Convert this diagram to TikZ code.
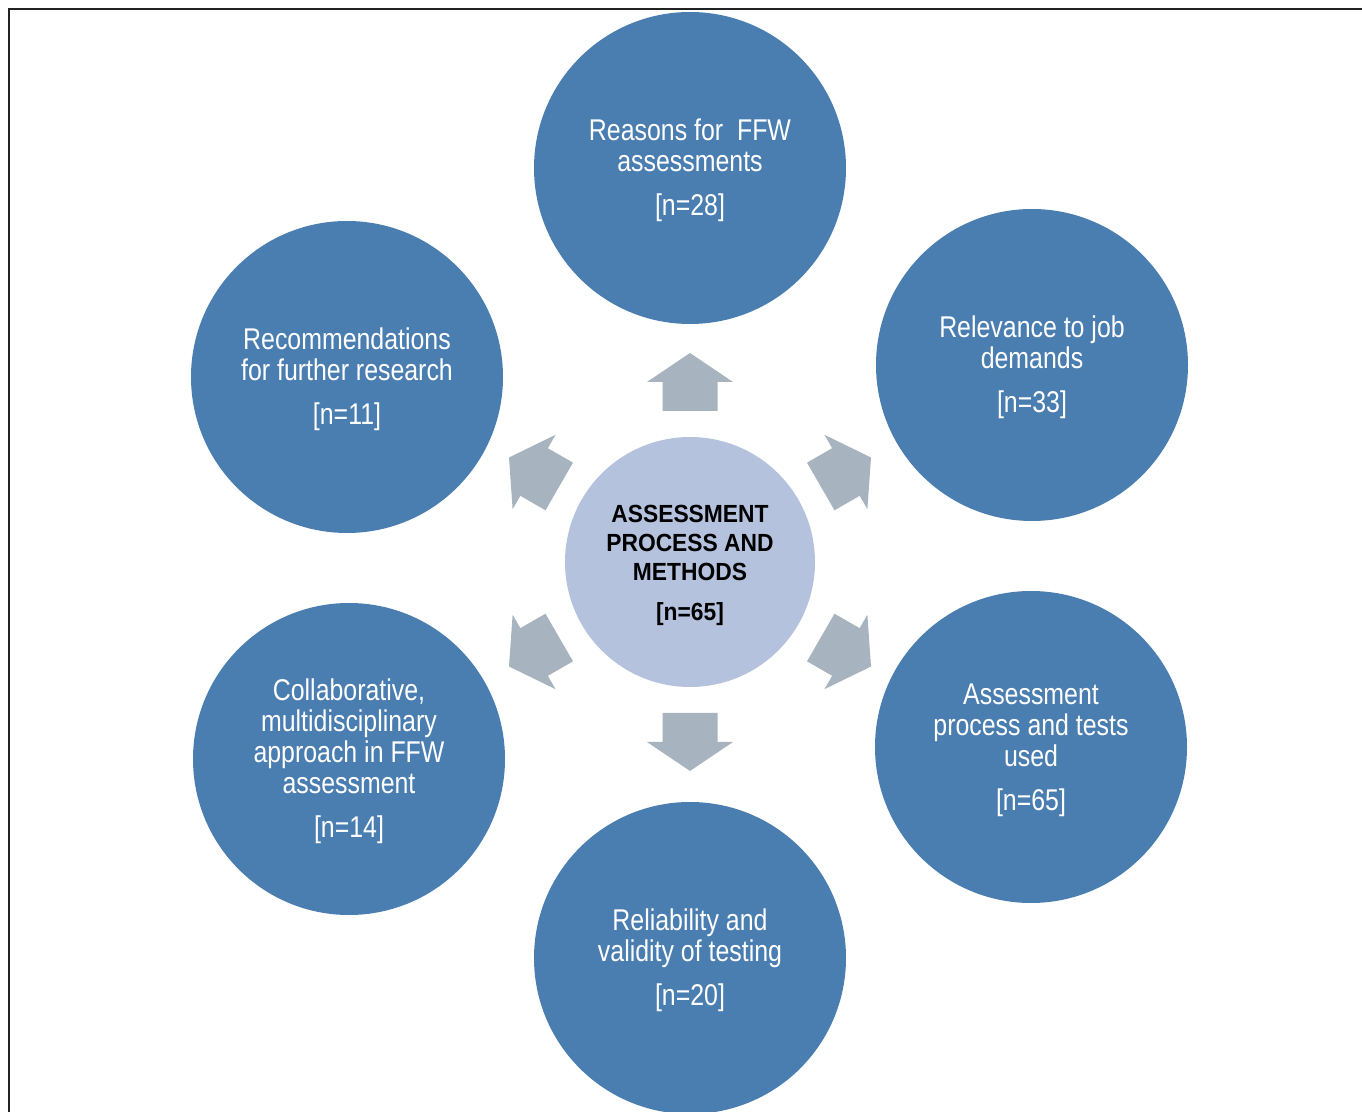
\documentclass[tikz,border=0pt]{standalone}
\usepackage{fontspec}
\setmainfont{Liberation Sans}[FakeStretch=0.83]
\newfontfamily\hubfont{Liberation Sans}[FakeStretch=0.92]
\definecolor{blueA}{RGB}{74,126,177}
\definecolor{hubC}{RGB}{180,194,222}
\definecolor{arrowC}{RGB}{168,179,192}
\definecolor{frameC}{RGB}{34,34,34}
\newcommand\mytopstrut[1]{\rule{0pt}{#1}}
\begin{document}
\begin{tikzpicture}[x=0.5pt,y=-0.5pt,
  outer/.style={circle, fill=blueA, draw=none, minimum size=156pt, inner sep=0pt,
    align=center, text=white, font=\fontsize{15}{15.5}\selectfont},
  hub/.style={circle, fill=hubC, draw=none, minimum size=125pt, inner sep=0pt,
    align=center, text=black, font=\hubfont\bfseries\fontsize{12.4}{14.5}\selectfont},
  blockarrow/.style={fill=arrowC, draw=none}]
\useasboundingbox (0,0) rectangle (1362,1112);
\draw[line width=1pt, frameC] (9,1112) -- (9,9) -- (1362,9);

\node[hub] (c) at (690,562) {\mytopstrut{12.2pt}ASSESSMENT\\PROCESS AND\\METHODS\\[5.5pt]{[n=65]}};

\node[outer] (t)  at (690,168)  {\mytopstrut{13.6pt}Reasons for~ FFW\\assessments\\[6.5pt]{[n=28]}};
\node[outer] (ur) at (1032,365) {\mytopstrut{13.6pt}Relevance to job\\demands\\[6.5pt]{[n=33]}};
\node[outer] (lr) at (1031,747) {\mytopstrut{13.6pt}Assessment\\process and tests\\used\\[6.5pt]{[n=65]}};
\node[outer] (b)  at (690,958)  {\mytopstrut{13.6pt}Reliability and\\validity of testing\\[6.5pt]{[n=20]}};
\node[outer] (ll) at (349,759)  {\mytopstrut{13.6pt}Collaborative,\\multidisciplinary\\approach in FFW\\assessment\\[6.5pt]{[n=14]}};
\node[outer] (ul) at (347,377)  {\mytopstrut{13.6pt}Recommendations\\for further research\\[6.5pt]{[n=11]}};

\foreach \a in {30,90,150,210,270,330}{
  \begin{scope}[shift={(c.center)}, rotate=\a]
    \fill[blockarrow] (151,-27.5) -- (180,-27.5) -- (180,-43) -- (209,0)
      -- (180,43) -- (180,27.5) -- (151,27.5) -- cycle;
  \end{scope}}
\end{tikzpicture}
\end{document}
